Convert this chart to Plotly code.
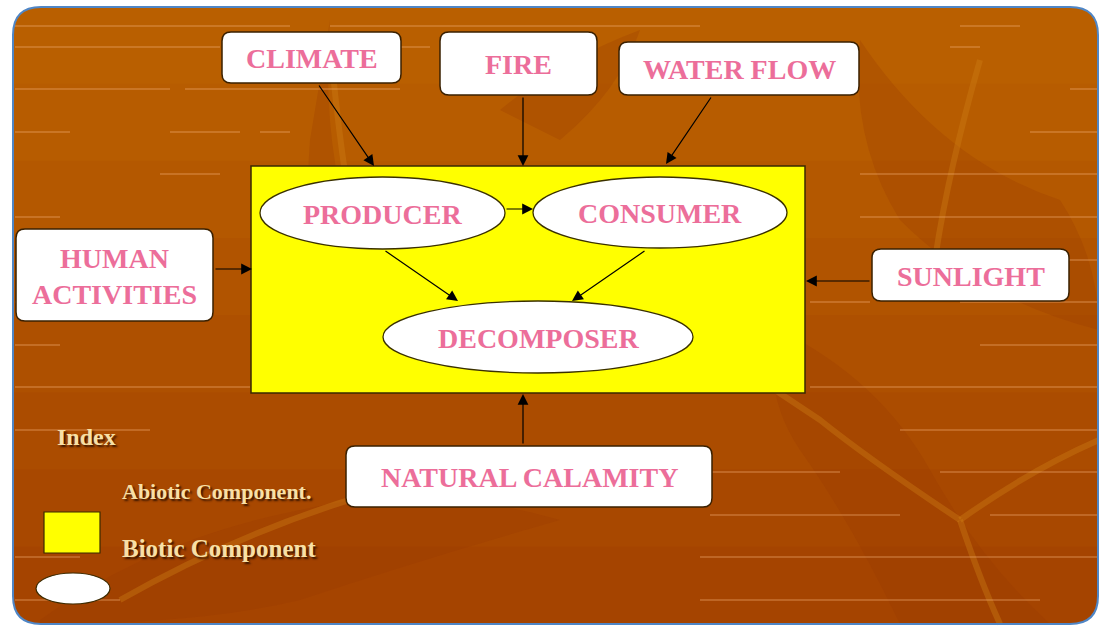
import plotly.graph_objects as go

# ---- diagram content ----
abiotic_labels = ["CLIMATE", "FIRE", "WATER FLOW", "HUMAN<br>ACTIVITIES", "SUNLIGHT", "NATURAL CALAMITY"]
biotic_labels = ["PRODUCER", "CONSUMER", "DECOMPOSER"]
legend_title = "Index"
legend_labels = ["Abiotic Component.", "Biotic Component"]
# flows: (source, target)
flows = [("CLIMATE", "BIOTIC"), ("FIRE", "BIOTIC"), ("WATER FLOW", "BIOTIC"),
         ("HUMAN<br>ACTIVITIES", "BIOTIC"), ("SUNLIGHT", "BIOTIC"), ("NATURAL CALAMITY", "BIOTIC"),
         ("PRODUCER", "CONSUMER"), ("PRODUCER", "DECOMPOSER"), ("CONSUMER", "DECOMPOSER")]

# ---- layout geometry (pixels) ----
W, H = 1099, 627
box_geom = {
    "CLIMATE": (222, 401, 32, 83),
    "FIRE": (440, 597, 32, 95),
    "WATER FLOW": (619, 859, 42, 95),
    "HUMAN<br>ACTIVITIES": (16, 213, 229, 321),
    "SUNLIGHT": (872, 1069, 249, 301),
    "NATURAL CALAMITY": (346, 712, 446, 507),
}
ell_geom = {
    "PRODUCER": (260, 505, 177, 249),
    "CONSUMER": (533, 787, 177, 248),
    "DECOMPOSER": (383, 693, 301, 373),
}
biotic_rect = (251, 805, 166, 393)
arrow_geom = {
    ("CLIMATE", "BIOTIC"): ((318, 84), (374, 166)),
    ("FIRE", "BIOTIC"): ((523, 96), (523, 166)),
    ("WATER FLOW", "BIOTIC"): ((712, 96), (666, 164)),
    ("HUMAN<br>ACTIVITIES", "BIOTIC"): ((214, 269), (252, 269)),
    ("SUNLIGHT", "BIOTIC"): ((871, 281), (806, 281)),
    ("NATURAL CALAMITY", "BIOTIC"): ((523, 445), (523, 394)),
    ("PRODUCER", "CONSUMER"): ((505, 209), (533, 209)),
    ("PRODUCER", "DECOMPOSER"): ((384, 250), (458, 301)),
    ("CONSUMER", "DECOMPOSER"): ((646, 250), (572, 301)),
}

PINK = "#EC6E9A"
CREAM = "#F8E0A6"
SERIF = "Liberation Serif, Times New Roman, serif"

shapes = []
annotations = []


def rounded_path(x0, x1, y0, y1, r, top=True, bottom=True):
    rt = r if top else 0
    rb = r if bottom else 0
    p = f"M {x0+rt},{y0} L {x1-rt},{y0} "
    if rt:
        p += f"Q {x1},{y0} {x1},{y0+rt} "
    p += f"L {x1},{y1-rb} "
    if rb:
        p += f"Q {x1},{y1} {x1-rb},{y1} "
    p += f"L {x0+rb},{y1} "
    if rb:
        p += f"Q {x0},{y1} {x0},{y1-rb} "
    p += f"L {x0},{y0+rt} "
    if rt:
        p += f"Q {x0},{y0} {x0+rt},{y0} "
    return p + "Z"


# background frame with vertical gradient (lighter at top)
FX0, FX1, FY0, FY1, FR = 13, 1098, 7, 624, 28
grad = ["#B95F00", "#B75C00", "#B45800", "#B15400", "#AE5000", "#AB4C00", "#A84800", "#A54400"]
band_h = (FY1 - FY0) / len(grad)
for i, c in enumerate(grad):
    y0 = FY0 + i * band_h
    y1 = FY0 + (i + 1) * band_h
    if i == 0:
        path = rounded_path(FX0, FX1, y0, y1 + 0.5, FR, top=True, bottom=False)
    elif i == len(grad) - 1:
        path = rounded_path(FX0, FX1, y0 - 0.5, y1, FR, top=False, bottom=True)
    else:
        path = rounded_path(FX0, FX1, y0 - 0.5, y1 + 0.5, 0, top=False, bottom=False)
    shapes.append(dict(type="path", path=path, fillcolor=c, line=dict(width=0), layer="below"))

# darker leaf silhouettes
leaf_paths = [
    "M 330,20 Q 320,150 360,260 Q 380,320 345,330 Q 300,260 310,140 Z",
    "M 860,40 Q 940,160 1060,200 Q 1099,260 1099,330 Q 980,300 900,220 Q 850,140 860,40 Z",
    "M 780,330 Q 880,380 930,470 Q 980,560 1050,624 L 900,624 Q 850,520 800,450 Q 760,390 780,330 Z",
    "M 40,620 Q 150,540 300,510 Q 420,480 560,520 Q 420,560 300,600 Q 200,624 40,624 Z",
    "M 500,110 Q 560,60 640,30 Q 620,90 560,140 Z",
]
for p in leaf_paths:
    shapes.append(dict(type="path", path=p, fillcolor="rgba(150,55,0,0.25)",
                       line=dict(width=0), layer="below"))
# lighter veins
vein_paths = [
    "M 960,520 Q 870,460 820,420 Q 760,380 700,340",
    "M 960,520 Q 1030,470 1099,440",
    "M 960,520 Q 980,580 1000,624",
    "M 120,600 Q 260,520 420,480",
    "M 980,60 Q 940,200 930,300",
    "M 330,40 Q 340,160 360,260",
]
for p in vein_paths:
    shapes.append(dict(type="path", path=p, line=dict(color="rgba(205,125,20,0.4)", width=6),
                       layer="below"))

# light horizontal stripes (broken segments)
stripe_rows = [
    (26, [(15, 290), (330, 700), (960, 1020)]),
    (47, [(15, 220), (400, 430), (950, 980)]),
    (89, [(15, 170), (185, 400), (1070, 1098)]),
    (132, [(15, 70), (170, 240), (260, 290), (1030, 1098)]),
    (174, [(160, 220), (860, 1098)]),
    (217, [(15, 60), (860, 1098)]),
    (260, [(990, 1098)]),
    (302, [(15, 110), (810, 870), (960, 1098)]),
    (345, [(15, 60), (980, 1098)]),
    (387, [(15, 250), (810, 1098)]),
    (430, [(15, 150), (900, 1098)]),
    (472, [(710, 840), (940, 1098)]),
    (515, [(710, 900), (990, 1098)]),
    (557, [(15, 80), (700, 1098)]),
    (600, [(15, 120), (700, 1040)]),
]
for y, segs in stripe_rows:
    for a, b in segs:
        shapes.append(dict(type="line", x0=a, x1=b, y0=y, y1=y,
                           line=dict(color="rgba(240,170,110,0.45)", width=1.5), layer="below"))

# frame border
shapes.append(dict(type="path", path=rounded_path(FX0, FX1, FY0, FY1, FR),
                   fillcolor="rgba(0,0,0,0)", line=dict(color="#4F86C6", width=2)))

# biotic rectangle
bx0, bx1, by0, by1 = biotic_rect
shapes.append(dict(type="rect", x0=bx0, x1=bx1, y0=by0, y1=by1, fillcolor="#FFFF00",
                   line=dict(color="#3A2A00", width=1.5)))

# abiotic boxes
for lab in abiotic_labels:
    x0, x1, y0, y1 = box_geom[lab]
    shapes.append(dict(type="path", path=rounded_path(x0, x1, y0, y1, 9), fillcolor="white",
                       line=dict(color="#3A2000", width=1.5)))
    annotations.append(dict(x=(x0 + x1) / 2, y=(y0 + y1) / 2 + 1, text=f"<b>{lab}</b>",
                            showarrow=False, font=dict(family=SERIF, size=28, color=PINK),
                            xref="x", yref="y"))

# biotic ellipses
for lab in biotic_labels:
    x0, x1, y0, y1 = ell_geom[lab]
    shapes.append(dict(type="circle", x0=x0, x1=x1, y0=y0, y1=y1, fillcolor="white",
                       line=dict(color="#3A3000", width=1.3)))
    annotations.append(dict(x=(x0 + x1) / 2, y=(y0 + y1) / 2 + 1, text=f"<b>{lab}</b>",
                            showarrow=False, font=dict(family=SERIF, size=28, color=PINK),
                            xref="x", yref="y"))

# arrows
for f in flows:
    (sx, sy), (tx, ty) = arrow_geom[f]
    annotations.append(dict(x=tx, y=ty, ax=sx, ay=sy, xref="x", yref="y", axref="x", ayref="y",
                            text="", showarrow=True, arrowhead=2, arrowsize=1.8,
                            arrowwidth=1.2, arrowcolor="black", standoff=0))

# legend / index
shadow = "2px 2px 2px #3A1500"
annotations.append(dict(x=55, y=437, text=f"<b>{legend_title}</b>", xanchor="left",
                        showarrow=False, xref="x", yref="y",
                        font=dict(family=SERIF, size=24, color=CREAM, shadow=shadow)))
annotations.append(dict(x=120, y=491, text=f"<b>{legend_labels[0]}</b>", xanchor="left",
                        showarrow=False, xref="x", yref="y",
                        font=dict(family=SERIF, size=22, color=CREAM, shadow=shadow)))
annotations.append(dict(x=120, y=548, text=f"<b>{legend_labels[1]}</b>", xanchor="left",
                        showarrow=False, xref="x", yref="y",
                        font=dict(family=SERIF, size=25, color=CREAM, shadow=shadow)))
shapes.append(dict(type="rect", x0=44, x1=100, y0=512, y1=553, fillcolor="#FFFF00",
                   line=dict(color="#3A2A00", width=1.2)))
shapes.append(dict(type="circle", x0=36, x1=110, y0=573, y1=604, fillcolor="white",
                   line=dict(color="#3A2A00", width=1.2)))

fig = go.Figure()
fig.add_trace(go.Scatter(x=[0, W], y=[0, H], mode="markers", marker=dict(opacity=0),
                         hoverinfo="skip", showlegend=False))
fig.update_layout(
    width=W, height=H, margin=dict(l=0, r=0, t=0, b=0),
    paper_bgcolor="white", plot_bgcolor="white",
    xaxis=dict(range=[0, W], visible=False, fixedrange=True),
    yaxis=dict(range=[H, 0], visible=False, fixedrange=True),
    shapes=shapes, annotations=annotations, showlegend=False,
)
fig.write_html("out.html", config={"displayModeBar": False},
               post_script="document.body.style.margin='0';document.body.style.overflow='hidden';")
